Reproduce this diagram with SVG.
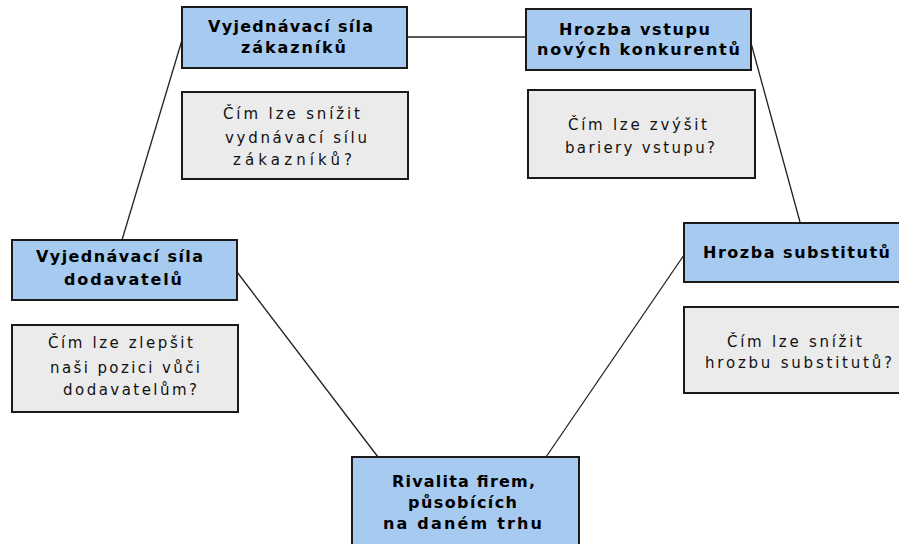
<svg xmlns="http://www.w3.org/2000/svg" width="899" height="544" viewBox="0 0 899 544">
<style>
.force rect{fill:#a6caf0;stroke:#1a1a1a;stroke-width:2}
.q rect{fill:#ebebeb;stroke:#1a1a1a;stroke-width:2}
.force text{font-family:"DejaVu Sans",Verdana,sans-serif;font-weight:bold;font-size:16px;fill:#000}
.q text{font-family:"DejaVu Sans",Verdana,sans-serif;font-size:15px;fill:#111}
.conn line{stroke:#222;stroke-width:1.3}
</style>
<rect width="899" height="544" fill="#fff"/>
<g class="conn" id="connectors">
<line x1="407" y1="37" x2="526" y2="37"/>
<line x1="182" y1="40" x2="122" y2="240"/>
<line x1="751" y1="43" x2="800" y2="222"/>
<line x1="237" y1="272" x2="378" y2="457"/>
<line x1="684" y1="255" x2="546" y2="457"/>
</g>
<g class="force" id="zakaznici">
<rect x="182" y="7" width="225" height="61"/>
<text x="208" y="32" textLength="165" lengthAdjust="spacing">Vyjednávací síla</text>
<text x="241" y="53" textLength="105" lengthAdjust="spacing">zákazníků</text>
</g>
<g class="force" id="novi-konkurenti">
<rect x="526" y="9" width="225" height="61"/>
<text x="559" y="35" textLength="151" lengthAdjust="spacing">Hrozba vstupu</text>
<text x="537" y="55" textLength="203" lengthAdjust="spacing">nových konkurentů</text>
</g>
<g class="q" id="q-zakaznici">
<rect x="182" y="92" width="226" height="87"/>
<text x="223" y="119" textLength="137" lengthAdjust="spacing">Čím lze snížit</text>
<text x="225" y="143" textLength="142" lengthAdjust="spacing">vydnávací sílu</text>
<text x="233" y="165" textLength="119" lengthAdjust="spacing">zákazníků?</text>
</g>
<g class="q" id="q-bariery">
<rect x="528" y="90" width="227" height="88"/>
<text x="568" y="130" textLength="139" lengthAdjust="spacing">Čím lze zvýšit</text>
<text x="565" y="153" textLength="150" lengthAdjust="spacing">bariery vstupu?</text>
</g>
<g class="force" id="dodavatele">
<rect x="12" y="240" width="225" height="60"/>
<text x="36" y="262" textLength="167" lengthAdjust="spacing">Vyjednávací síla</text>
<text x="64" y="285" textLength="118" lengthAdjust="spacing">dodavatelů</text>
</g>
<g class="force" id="substituty">
<rect x="684" y="223" width="230" height="59"/>
<text x="703" y="258" textLength="187" lengthAdjust="spacing">Hrozba substitutů</text>
</g>
<g class="q" id="q-dodavatele">
<rect x="12" y="325" width="226" height="87"/>
<text x="48" y="348" textLength="145" lengthAdjust="spacing">Čím lze zlepšit</text>
<text x="50" y="373" textLength="150" lengthAdjust="spacing">naši pozici vůči</text>
<text x="63" y="395" textLength="134" lengthAdjust="spacing">dodavatelům?</text>
</g>
<g class="q" id="q-substituty">
<rect x="684" y="307" width="230" height="86"/>
<text x="727" y="347" textLength="135" lengthAdjust="spacing">Čím lze snížit</text>
<text x="705" y="368" textLength="187" lengthAdjust="spacing">hrozbu substitutů?</text>
</g>
<g class="force" id="rivalita">
<rect x="352" y="457" width="227" height="100"/>
<text x="392" y="487" textLength="143" lengthAdjust="spacing">Rivalita firem,</text>
<text x="408" y="508" textLength="109" lengthAdjust="spacing">působících</text>
<text x="383" y="529" textLength="159" lengthAdjust="spacing">na daném trhu</text>
</g>
</svg>
